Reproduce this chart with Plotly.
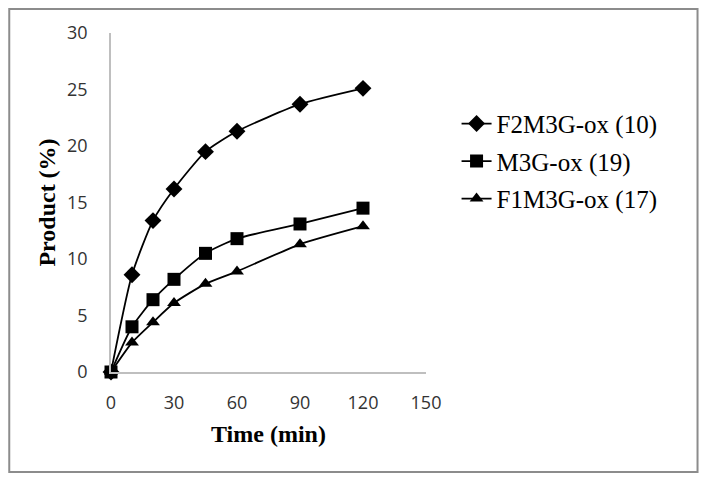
import plotly.graph_objects as go

time_min = [0, 10, 20, 30, 45, 60, 90, 120]
f2m3g = [0, 8.6, 13.4, 16.2, 19.5, 21.3, 23.7, 25.1]
m3g = [0, 4.0, 6.4, 8.2, 10.5, 11.8, 13.1, 14.5]
f1m3g = [0, 2.6, 4.4, 6.1, 7.8, 8.9, 11.3, 12.9]

names = ["F2M3G-ox (10)", "M3G-ox (19)", "F1M3G-ox (17)"]
series = [f2m3g, m3g, f1m3g]
symbols = ["diamond", "square", "triangle-up"]
sizes = [13, 13, 12]

fig = go.Figure()
for i, (nm, ys, sym, sz) in enumerate(zip(names, series, symbols, sizes)):
    fig.add_trace(go.Scatter(
        x=time_min, y=ys, name=nm, mode="lines+markers",
        line=dict(color="black", width=1.8, shape="spline", smoothing=0.6),
        marker=dict(symbol=sym, size=sz, color="black"),
        cliponaxis=False, legendgroup=str(i),
    ))

fig.update_layout(
    width=701, height=475,
    margin=dict(l=102.5, r=283, t=25, b=111),
    paper_bgcolor="white", plot_bgcolor="white",
    showlegend=True,
    legend=dict(x=1.097, y=0.80, xanchor="left", yanchor="top",
                font=dict(family="Liberation Serif", size=25, color="black"),
                tracegroupgap=2, bgcolor="rgba(0,0,0,0)"),
    xaxis=dict(range=[0, 150], tickvals=[0, 30, 60, 90, 120, 150],
               showgrid=False, zeroline=False, showline=True,
               linecolor="#bfbfbf", linewidth=1.5, ticks="",
               ticklabelstandoff=14,
               tickfont=dict(family="Open Sans", size=18, color="#333333"),
               title=dict(text="<b>Time (min)</b>", standoff=12,
                          font=dict(family="Liberation Serif", size=24, color="black"))),
    yaxis=dict(range=[0, 30], tickvals=[0, 5, 10, 15, 20, 25, 30],
               showgrid=False, zeroline=False, showline=True,
               linecolor="#bfbfbf", linewidth=1.5, ticks="",
               ticklabelstandoff=18,
               tickfont=dict(family="Open Sans", size=18, color="#333333"),
               title=dict(text="<b>Product (%)</b>", standoff=5,
                          font=dict(family="Liberation Serif", size=24, color="black"))),
    shapes=[dict(type="rect", xref="paper", yref="paper",
                 x0=-0.323, x1=1.862, y0=-0.295, y1=1.071,
                 line=dict(color="#8c8c8c", width=2), fillcolor="rgba(0,0,0,0)")],
)

fig.write_html("out.html")
